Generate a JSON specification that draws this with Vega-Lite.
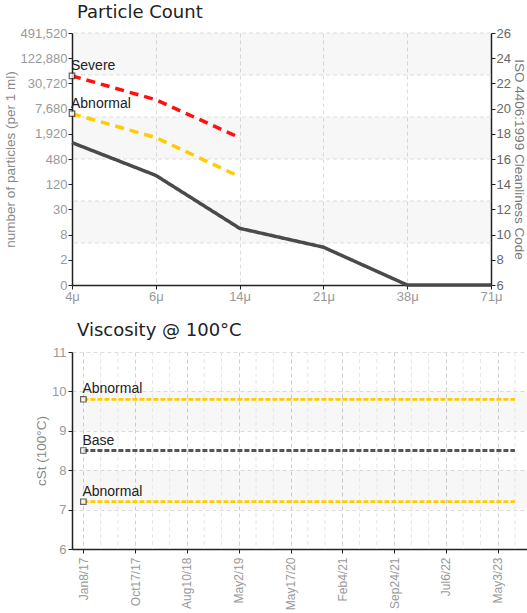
{
  "$schema": "https://vega.github.io/schema/vega-lite/v6.json",
  "padding": {"left": 3, "top": 4, "right": 0, "bottom": 0},
  "background": "white",
  "spacing": 19,
  "resolve": {"scale": {"color": "independent", "strokeDash": "independent"}},
  "config": {
    "view": {"stroke": null},
    "font": "Liberation Sans, sans-serif",
    "axis": {
      "labelFont": "Liberation Sans, sans-serif",
      "titleFont": "Liberation Sans Narrow, Liberation Sans, sans-serif",
      "labelFontSize": 13,
      "titleFontSize": 13.5,
      "titleFontWeight": "normal",
      "labelColor": "#999999",
      "titleColor": "#888888",
      "domainColor": "#222222",
      "tickColor": "#222222",
      "tickSize": 4,
      "domainWidth": 1.5
    },
    "title": {"font": "DejaVu Sans", "fontSize": 18, "fontWeight": "normal", "color": "#222222", "anchor": "start", "frame": "group", "dx": 5, "offset": 5}
  },
  "datasets": {
    "pcBands": [{"y0": 22.667, "y1": 26}, {"y0": 16, "y1": 19.333}, {"y0": 9.333, "y1": 12.667}],
    "pcGrid": [{"y": 26}, {"y": 22.667}, {"y": 19.333}, {"y": 16}, {"y": 12.667}, {"y": 9.333}],
    "pc": [
      {"series": "Severe", "size": "4μ", "code": 22.6},
      {"series": "Severe", "size": "6μ", "code": 20.7},
      {"series": "Severe", "size": "14μ", "code": 17.7},
      {"series": "Abnormal", "size": "4μ", "code": 19.6},
      {"series": "Abnormal", "size": "6μ", "code": 17.7},
      {"series": "Abnormal", "size": "14μ", "code": 14.6},
      {"series": "Base", "size": "4μ", "code": 17.3},
      {"series": "Base", "size": "6μ", "code": 14.7},
      {"series": "Base", "size": "14μ", "code": 10.5},
      {"series": "Base", "size": "21μ", "code": 9.0},
      {"series": "Base", "size": "38μ", "code": 6.0},
      {"series": "Base", "size": "71μ", "code": 6.0}
    ],
    "pcLabels": [
      {"series": "Severe", "size": "4μ", "code": 22.6},
      {"series": "Abnormal", "size": "4μ", "code": 19.6}
    ],
    "vBands": [{"y0": 9, "y1": 10}, {"y0": 7, "y1": 8}],
    "vGridX": [
      {"i": 1}, {"i": 2}, {"i": 4}, {"i": 5}, {"i": 7}, {"i": 8}, {"i": 10}, {"i": 11},
      {"i": 13}, {"i": 14}, {"i": 16}, {"i": 17}, {"i": 19}, {"i": 20}, {"i": 22}, {"i": 23}, {"i": 25}
    ],
    "visc": [
      {"series": "Abnormal high", "label": "Abnormal", "i": 0, "v": 9.8},
      {"series": "Abnormal high", "label": "Abnormal", "i": 25, "v": 9.8},
      {"series": "Base", "label": "Base", "i": 0, "v": 8.5},
      {"series": "Base", "label": "Base", "i": 25, "v": 8.5},
      {"series": "Abnormal low", "label": "Abnormal", "i": 0, "v": 7.2},
      {"series": "Abnormal low", "label": "Abnormal", "i": 25, "v": 7.2}
    ]
  },
  "vconcat": [
    {
      "title": {"text": "Particle Count"},
      "width": 419,
      "height": 252,
      "resolve": {"axis": {"y": "independent"}},
      "layer": [
        {
          "data": {"name": "pcBands"},
          "mark": {"type": "rect", "fill": "#000000", "fillOpacity": 0.03},
          "encoding": {
            "x": {"value": 0},
            "x2": {"value": "width"},
            "y": {"field": "y0", "type": "quantitative", "scale": {"domain": [6, 26], "nice": false, "zero": false}, "axis": null},
            "y2": {"field": "y1"}
          }
        },
        {
          "data": {"name": "pcGrid"},
          "mark": {"type": "rule", "color": "#dddddd", "strokeDash": [4, 3], "strokeWidth": 1},
          "encoding": {
            "y": {
              "field": "y", "type": "quantitative",
              "scale": {"domain": [6, 26], "nice": false, "zero": false},
              "axis": {
                "orient": "right",
                "title": "ISO 4406:1999 Cleanliness Code",
                "titleFontSize": 13.5,
                "titlePadding": 1,
                "values": [6, 8, 10, 12, 14, 16, 18, 20, 22, 24, 26],
                "tickCount": 40,
                "format": "d",
                "grid": false,
                "labelColor": "#666666",
                "titleColor": "#777777",
                "labelPadding": 1
              }
            }
          }
        },
        {
          "data": {"name": "pc"},
          "mark": {"type": "line", "strokeWidth": 3.5},
          "encoding": {
            "x": {
              "field": "size", "type": "ordinal",
              "scale": {"type": "point", "padding": 0, "domain": ["4μ", "6μ", "14μ", "21μ", "38μ", "71μ"]},
              "axis": {"title": null, "labelAngle": 0, "grid": true, "gridDash": [4, 3], "gridColor": "#dddddd", "labelPadding": 1}
            },
            "y": {
              "field": "code", "type": "quantitative",
              "scale": {"domain": [6, 26], "nice": false, "zero": false},
              "axis": {
                "title": "number of particles (per 1 ml)",
                "values": [6, 8, 10, 12, 14, 16, 18, 20, 22, 24, 26],
                "tickCount": 40,
                "labelExpr": "format(round(15 * pow(2, datum.value - 11)), ',')",
                "grid": false,
                "labelPadding": 1,
                "titlePadding": 3
              }
            },
            "color": {"field": "series", "type": "nominal", "scale": {"domain": ["Severe", "Abnormal", "Base"], "range": ["#ff1010", "#ffcc00", "#4a4a4a"]}, "legend": null},
            "strokeDash": {"field": "series", "type": "nominal", "scale": {"domain": ["Severe", "Abnormal", "Base"], "range": [[9, 6], [9, 6], [1, 0]]}, "legend": null}
          }
        },
        {
          "data": {"name": "pcLabels"},
          "mark": {"type": "point", "shape": "square", "size": 30, "filled": true, "fill": "white", "stroke": "#222222", "strokeWidth": 1.2},
          "encoding": {
            "x": {"field": "size", "type": "ordinal"},
            "y": {"field": "code", "type": "quantitative", "axis": null}
          }
        },
        {
          "data": {"name": "pcLabels"},
          "mark": {"type": "text", "align": "left", "baseline": "bottom", "dx": -1, "dy": -3, "fontSize": 14, "color": "#222222", "font": "Liberation Sans Narrow, Liberation Sans, sans-serif"},
          "encoding": {
            "x": {"field": "size", "type": "ordinal"},
            "y": {"field": "code", "type": "quantitative", "axis": null},
            "text": {"field": "series"}
          }
        }
      ]
    },
    {
      "title": {"text": "Viscosity @ 100°C", "offset": 6},
      "width": 455,
      "height": 197,
      "layer": [
        {
          "data": {"name": "vBands"},
          "mark": {"type": "rect", "fill": "#000000", "fillOpacity": 0.03},
          "encoding": {
            "x": {"value": 0},
            "x2": {"value": "width"},
            "y": {"field": "y0", "type": "quantitative", "scale": {"domain": [6, 11], "nice": false, "zero": false}},
            "y2": {"field": "y1"}
          }
        },
        {
          "data": {"name": "vGridX"},
          "mark": {"type": "rule", "color": "#e6e6e6", "strokeDash": [4, 3], "strokeWidth": 1},
          "encoding": {
            "x": {"field": "i", "type": "quantitative", "scale": {"domain": [-0.66, 25.7], "nice": false, "zero": false}}
          }
        },
        {
          "data": {"name": "visc"},
          "mark": {"type": "line", "strokeWidth": 2.8},
          "encoding": {
            "x": {
              "field": "i", "type": "quantitative",
              "scale": {"domain": [-0.66, 25.7], "nice": false, "zero": false},
              "axis": {
                "title": null,
                "values": [0, 3, 6, 9, 12, 15, 18, 21, 24],
                "tickCount": 40,
                "labelExpr": "['Jan8/17','Oct17/17','Aug10/18','May2/19','May17/20','Feb4/21','Sep24/21','Jul6/22','May3/23'][round(datum.value / 3)]",
                "labelAngle": -90,
                "labelFontSize": 12,
                "labelOverlap": false,
                "labelPadding": 4,
                "grid": true,
                "gridDash": [4, 3],
                "gridColor": "#d0d0d0"
              }
            },
            "y": {
              "field": "v", "type": "quantitative",
              "scale": {"domain": [6, 11], "nice": false, "zero": false},
              "axis": {"title": "cSt (100°C)", "values": [6, 7, 8, 9, 10, 11], "tickCount": 40, "format": "d", "grid": true, "gridDash": [4, 3], "gridColor": "#dddddd", "labelPadding": 2, "titlePadding": 3}
            },
            "color": {"field": "series", "type": "nominal", "scale": {"domain": ["Abnormal high", "Base", "Abnormal low"], "range": ["#ffcc00", "#555555", "#ffcc00"]}, "legend": null},
            "strokeDash": {"value": [5, 2]}
          }
        },
        {
          "data": {"name": "visc"},
          "transform": [{"filter": "datum.i === 0"}],
          "mark": {"type": "point", "shape": "square", "size": 30, "filled": true, "fill": "white", "stroke": "#222222", "strokeWidth": 1.2},
          "encoding": {
            "x": {"field": "i", "type": "quantitative"},
            "y": {"field": "v", "type": "quantitative"}
          }
        },
        {
          "data": {"name": "visc"},
          "transform": [{"filter": "datum.i === 0"}],
          "mark": {"type": "text", "align": "left", "baseline": "bottom", "dx": -1, "dy": -3, "fontSize": 14, "color": "#222222", "font": "Liberation Sans Narrow, Liberation Sans, sans-serif"},
          "encoding": {
            "x": {"field": "i", "type": "quantitative"},
            "y": {"field": "v", "type": "quantitative"},
            "text": {"field": "label"}
          }
        }
      ]
    }
  ]
}
